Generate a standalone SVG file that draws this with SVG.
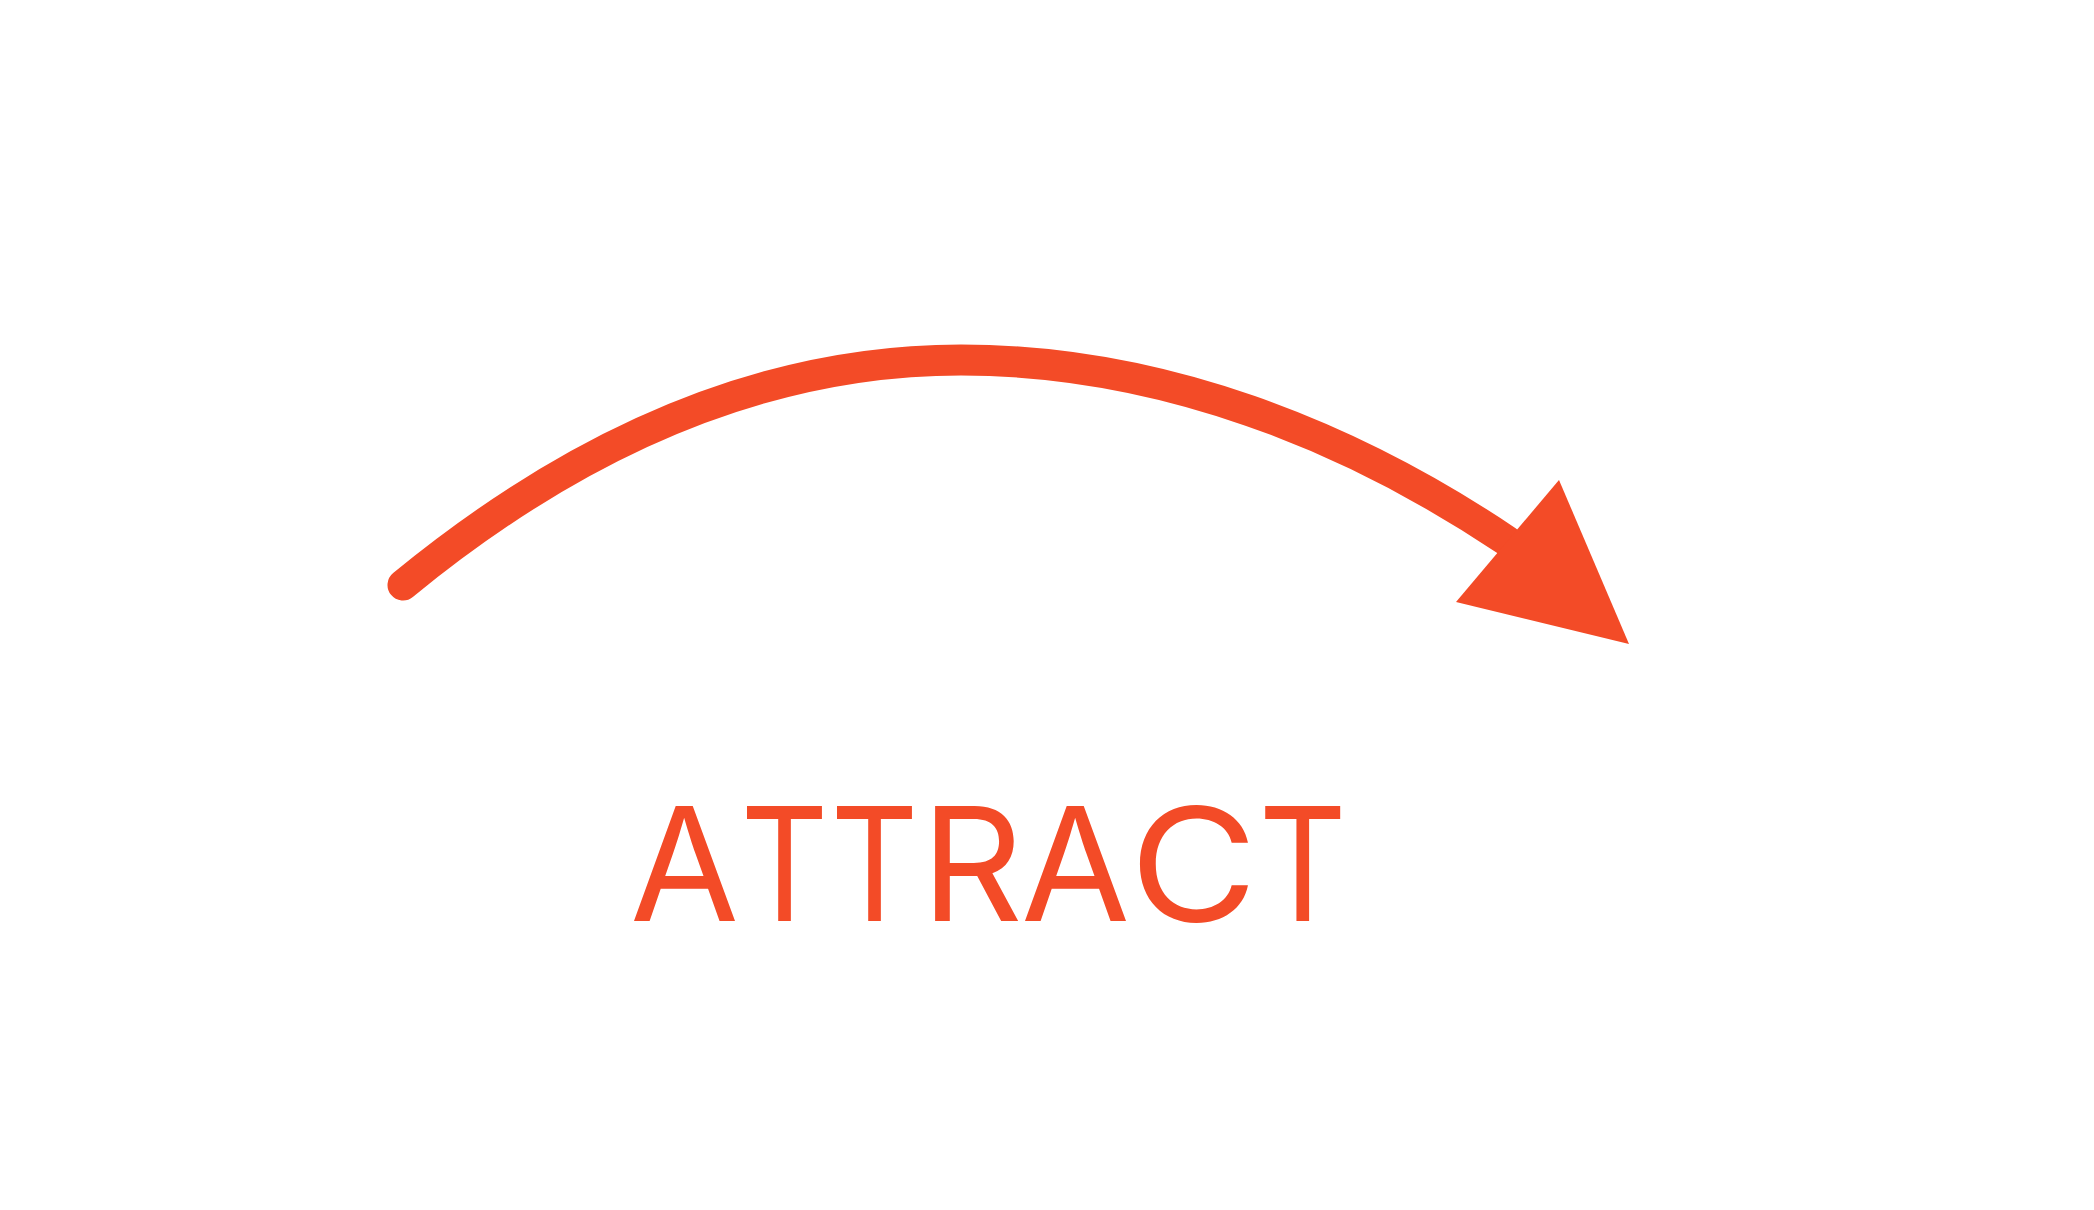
<svg xmlns="http://www.w3.org/2000/svg" width="2094" height="1210" viewBox="0 0 2094 1210">
  <style>
    .arc { fill: none; stroke: #F34B27; stroke-width: 31; stroke-linecap: round; }
    .head { fill: #F34B27; }
    .label { font-family: Inter, "Open Sans", "Liberation Sans", sans-serif; font-size: 158px; font-weight: 400; fill: #F34B27; text-anchor: middle; }
  </style>
  <rect width="2094" height="1210" fill="#FFFFFF"/>
  <g id="connectors">
    <path class="arc" d="M403,585 Q677,360 961,360 C1161,360 1349,435 1507,541"/>
    <polygon class="head" points="1559,480 1629,644 1456,602"/>
  </g>
  <g id="label-attract">
    <text class="label" y="921"><tspan x="684.5">A</tspan><tspan x="784.5" textLength="88" lengthAdjust="spacingAndGlyphs">T</tspan><tspan x="874.5" textLength="88" lengthAdjust="spacingAndGlyphs">T</tspan><tspan x="972">R</tspan><tspan x="1075.5">A</tspan><tspan x="1193.5" textLength="128" lengthAdjust="spacingAndGlyphs">C</tspan><tspan x="1302.8" textLength="88" lengthAdjust="spacingAndGlyphs">T</tspan></text>
  </g>
</svg>
